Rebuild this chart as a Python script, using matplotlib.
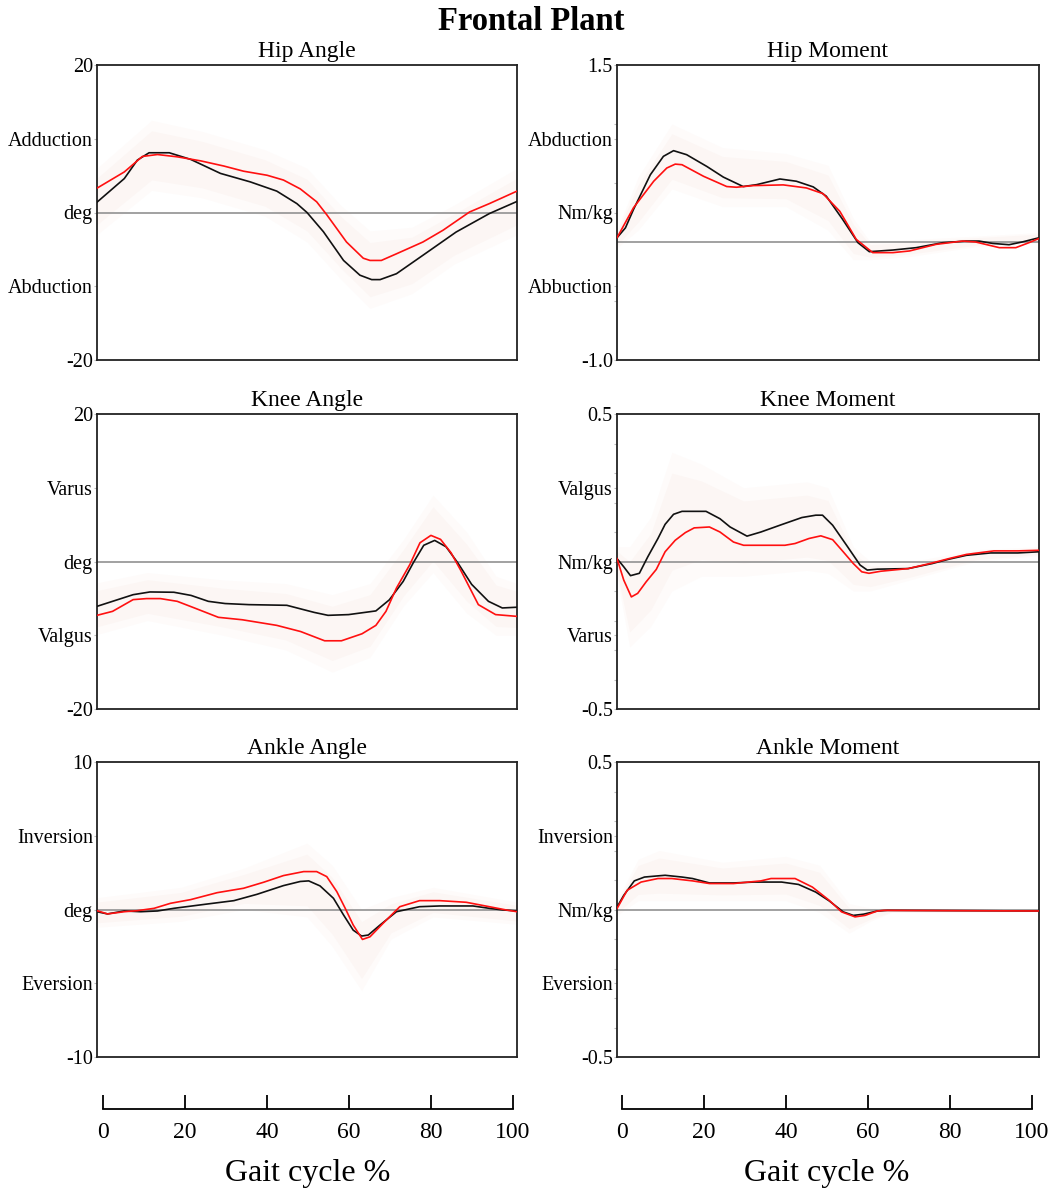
import numpy as np
import matplotlib
matplotlib.use("Agg")
import matplotlib.pyplot as plt

plt.rcParams.update({"font.family": ["Liberation Serif", "DejaVu Serif"]})

# ---- Hip angle (deg) ----
HIP_ANG_BX = [0, 6.5, 9.6, 12.4, 17.2, 22.3, 29.4, 36.5, 42.8, 47.6, 50, 53.9, 58.7,
              62.6, 65.4, 67.4, 71.3, 77.6, 85.5, 93.4, 100]
HIP_ANG_BY = [1.4, 4.6, 7.1, 8.1, 8.1, 7.2, 5.3, 4.15, 2.9, 1.2, 0.0, -2.6, -6.5,
              -8.5, -9.1, -9.1, -8.3, -5.8, -2.65, -0.15, 1.5]
HIP_ANG_RX = [0, 6.5, 10.8, 14.4, 19.1, 24.7, 30.2, 34.9, 40.5, 44.4, 48.4, 52.3, 54.7,
              59.4, 63.4, 65, 67.7, 71.3, 77.6, 82.4, 88.7, 93.4, 100]
HIP_ANG_RY = [3.3, 5.5, 7.6, 7.86, 7.55, 7.0, 6.3, 5.6, 5.05, 4.4, 3.2, 1.45, -0.3,
              -4.0, -6.2, -6.5, -6.5, -5.6, -4.0, -2.4, 0.07, 1.2, 2.9]
HIP_ANG_SX = [0, 13, 25, 40, 50, 58, 65, 75, 85, 100]
HIP_ANG_HI = [6.0, 12.5, 11.0, 8.5, 6.0, 1.0, -2.5, -2.0, 1.0, 6.0]
HIP_ANG_LO = [-3.0, 3.0, 2.0, -0.5, -4.0, -9.0, -13.0, -11.0, -7.0, -3.0]

# ---- Hip moment (Nm/kg) ----
HIP_MOM_BX = [0, 2, 3.9, 7.9, 11, 13.4, 16.5, 21.3, 25.2, 29.9, 33.1, 38.6, 42.5, 46.5,
              49.6, 53.5, 57.1, 59.8, 65.4, 70.9, 77.2, 82.7, 85.8, 89, 92.9, 96, 100]
HIP_MOM_BY = [0.036, 0.12, 0.275, 0.57, 0.726, 0.774, 0.74, 0.64, 0.55, 0.47, 0.486,
              0.534, 0.515, 0.467, 0.388, 0.19, -0.006, -0.082, -0.068, -0.048, -0.006,
              0.008, 0.008, -0.012, -0.023, 0.0, 0.036]
HIP_MOM_RX = [0, 3.9, 8.7, 11.8, 13.8, 15.4, 20.5, 26, 28.3, 32.3, 39.4, 44.9, 48.8,
              52.8, 56.7, 60.6, 65.4, 69.3, 75.6, 81.9, 85, 90.6, 94.5, 97.6, 100]
HIP_MOM_RY = [0.036, 0.29, 0.515, 0.627, 0.66, 0.655, 0.557, 0.47, 0.464, 0.478, 0.484,
              0.458, 0.41, 0.26, 0.022, -0.09, -0.09, -0.076, -0.02, 0.008, 0.0, -0.048,
              -0.048, -0.006, 0.03]
HIP_MOM_SX = [0, 5, 13, 25, 40, 50, 56, 60, 70, 85, 100]
HIP_MOM_HI = [0.1, 0.55, 1.0, 0.8, 0.75, 0.65, 0.2, 0.0, 0.02, 0.05, 0.08]
HIP_MOM_LO = [-0.05, 0.1, 0.45, 0.3, 0.3, 0.1, -0.15, -0.15, -0.12, -0.04, -0.01]

# ---- Knee angle (deg) ----
KNEE_ANG_BX = [0, 3.7, 8.6, 12.6, 18.3, 22.4, 26.5, 30.5, 36.2, 45.2, 51.7, 55, 59.9,
               66.4, 69.6, 72.9, 75.3, 77.8, 80.4, 83.1, 85.9, 89.2, 93.2, 96.5, 100]
KNEE_ANG_BY = [-6.08, -5.4, -4.5, -4.13, -4.17, -4.6, -5.4, -5.7, -5.85, -5.94, -6.9,
               -7.3, -7.2, -6.7, -5.2, -2.7, -0.18, 2.2, 2.86, 2.0, -0.18, -3.1, -5.4,
               -6.3, -6.2]
KNEE_ANG_RX = [0, 3.7, 8.6, 11.8, 15.1, 19.1, 23.2, 28.9, 34.6, 42.8, 48.5, 54.2, 58.2,
               63.1, 66.4, 68.8, 71.3, 74.5, 76.9, 79.5, 81.8, 84.3, 86.7, 90.8, 94.9, 100]
KNEE_ANG_RY = [-7.3, -6.76, -5.17, -5.03, -5.03, -5.4, -6.3, -7.57, -7.9, -8.66, -9.5,
               -10.75, -10.75, -9.8, -8.66, -6.76, -3.6, -0.4, 2.54, 3.54, 3.0, 1.18,
               -1.3, -5.85, -7.2, -7.44]
KNEE_ANG_SX = [0, 12, 30, 45, 56, 65, 73, 80, 88, 95, 100]
KNEE_ANG_HI = [-2.9, -1.5, -2.5, -3.0, -4.5, -3.0, 3.0, 9.0, 4.0, -2.0, -3.0]
KNEE_ANG_LO = [-9.9, -8.0, -10.0, -12.0, -15.0, -13.0, -6.0, -1.5, -7.0, -10.0, -10.0]

# ---- Knee moment (Nm/kg) ----
KNEE_MOM_BX = [0, 1.6, 3.2, 5.3, 7.3, 9.7, 11.4, 13.4, 15.4, 21.1, 24.4, 26.8, 30.8,
               34.1, 39, 43.8, 47.1, 48.7, 51.1, 54.4, 57.6, 59.3, 61.7, 69, 74.7, 78.7,
               82.8, 88.5, 95, 100]
KNEE_MOM_BY = [0.01, -0.018, -0.048, -0.04, 0.016, 0.078, 0.126, 0.16, 0.17, 0.17,
               0.145, 0.117, 0.086, 0.1, 0.125, 0.149, 0.157, 0.157, 0.123, 0.055,
               -0.012, -0.029, -0.026, -0.024, -0.007, 0.008, 0.021, 0.029, 0.029, 0.033]
KNEE_MOM_RX = [0, 1.6, 3.4, 4.9, 6.9, 9.3, 11.4, 13.8, 16.2, 18.3, 21.9, 24.4, 27.6, 30,
               39.8, 42.2, 45.5, 48.3, 51.1, 53.6, 56, 58, 59.7, 62.5, 69, 74.7, 78.7,
               82.8, 89.3, 95, 100]
KNEE_MOM_RY = [0.01, -0.063, -0.12, -0.108, -0.069, -0.027, 0.033, 0.072, 0.098, 0.114,
               0.117, 0.1, 0.066, 0.055, 0.055, 0.061, 0.078, 0.087, 0.074, 0.033,
               -0.007, -0.035, -0.04, -0.033, -0.024, -0.005, 0.01, 0.024, 0.036, 0.036,
               0.038]
KNEE_MOM_SX = [0, 3, 8, 13, 20, 30, 45, 50, 56, 60, 70, 85, 100]
KNEE_MOM_HI = [0.05, 0.05, 0.15, 0.37, 0.33, 0.25, 0.27, 0.25, 0.05, 0.0, 0.0, 0.04, 0.05]
KNEE_MOM_LO = [-0.05, -0.29, -0.22, -0.1, -0.05, -0.05, -0.03, -0.04, -0.1, -0.1, -0.06,
               0.0, 0.02]

# ---- Ankle angle (deg) ----
ANK_ANG_BX = [0, 2.5, 6.5, 10.4, 14.4, 18.3, 26.2, 32.6, 38.1, 44.4, 48.4, 50.4, 53.1,
              56.3, 58.7, 61, 63, 64.6, 67.4, 71.3, 76.8, 81.6, 89.5, 93.4, 96.6, 100]
ANK_ANG_BY = [-0.15, -0.3, -0.1, -0.15, -0.1, 0.08, 0.37, 0.6, 1.03, 1.62, 1.9, 1.94,
              1.6, 0.76, -0.37, -1.4, -1.8, -1.73, -1.05, -0.15, 0.19, 0.24, 0.24, 0.08,
              -0.03, -0.1]
ANK_ANG_RX = [0, 2.5, 6.5, 9.6, 13.6, 17.5, 22.3, 28.6, 34.9, 39.7, 44.4, 49.2, 52.3,
              54.7, 57.1, 59.1, 61, 63.2, 65, 68.1, 72.1, 76.8, 81.6, 87.9, 93.4, 97.4, 100]
ANK_ANG_RY = [-0.08, -0.3, -0.15, -0.08, 0.08, 0.42, 0.67, 1.14, 1.44, 1.85, 2.3, 2.57,
              2.57, 2.23, 1.21, 0.08, -1.05, -2.03, -1.85, -0.94, 0.19, 0.6, 0.6, 0.49,
              0.19, -0.03, -0.15]
ANK_ANG_SX = [0, 20, 35, 50, 56, 63, 70, 80, 100]
ANK_ANG_HI = [0.8, 1.5, 2.8, 4.5, 3.0, 0.0, 0.8, 1.5, 0.5]
ANK_ANG_LO = [-1.2, -0.8, 0.0, -0.5, -2.5, -5.5, -2.0, -0.5, -1.0]

# ---- Ankle moment (Nm/kg) ----
ANK_MOM_BX = [0, 1.6, 4.1, 6.5, 9.7, 11.4, 15.4, 17.9, 21.9, 27.6, 32.5, 39, 43, 47.1,
              50.3, 53.6, 56, 58.4, 61.7, 64.1, 100]
ANK_MOM_BY = [0.008, 0.048, 0.097, 0.11, 0.114, 0.116, 0.11, 0.105, 0.09, 0.09, 0.093,
              0.093, 0.085, 0.059, 0.029, -0.008, -0.02, -0.016, -0.005, -0.003, -0.005]
ANK_MOM_RX = [0, 2.4, 5.7, 9.7, 13, 17.9, 21.9, 27.6, 34.1, 36.5, 42.2, 46.3, 50.3, 53.2,
              56.4, 58.8, 61.7, 63.3, 100]
ANK_MOM_RY = [0.003, 0.065, 0.093, 0.105, 0.105, 0.097, 0.088, 0.088, 0.097, 0.105,
              0.105, 0.076, 0.031, -0.008, -0.025, -0.02, -0.005, -0.003, -0.005]
ANK_MOM_SX = [0, 5, 10, 25, 40, 48, 55, 60, 65, 100]
ANK_MOM_HI = [0.03, 0.17, 0.2, 0.16, 0.18, 0.15, 0.02, 0.005, 0.002, 0.002]
ANK_MOM_LO = [-0.02, 0.03, 0.03, 0.03, 0.03, -0.01, -0.08, -0.04, -0.01, -0.008]

PANELS = [
    dict(title="Hip Angle", ylim=(-20, 20), labels=["20", "Adduction", "deg", "Abduction", "-20"],
         minor=[], black=(HIP_ANG_BX, HIP_ANG_BY), red=(HIP_ANG_RX, HIP_ANG_RY),
         band=(HIP_ANG_SX, HIP_ANG_LO, HIP_ANG_HI)),
    dict(title="Hip Moment", ylim=(-1.0, 1.5), labels=["1.5", "Abduction", "Nm/kg", "Abbuction", "-1.0"],
         minor=[1.0, 0.5, -0.5], black=(HIP_MOM_BX, HIP_MOM_BY), red=(HIP_MOM_RX, HIP_MOM_RY),
         band=(HIP_MOM_SX, HIP_MOM_LO, HIP_MOM_HI)),
    dict(title="Knee Angle", ylim=(-20, 20), labels=["20", "Varus", "deg", "Valgus", "-20"],
         minor=[], black=(KNEE_ANG_BX, KNEE_ANG_BY), red=(KNEE_ANG_RX, KNEE_ANG_RY),
         band=(KNEE_ANG_SX, KNEE_ANG_LO, KNEE_ANG_HI)),
    dict(title="Knee Moment", ylim=(-0.5, 0.5), labels=["0.5", "Valgus", "Nm/kg", "Varus", "-0.5"],
         minor=np.arange(-0.4, 0.45, 0.1), black=(KNEE_MOM_BX, KNEE_MOM_BY),
         red=(KNEE_MOM_RX, KNEE_MOM_RY), band=(KNEE_MOM_SX, KNEE_MOM_LO, KNEE_MOM_HI)),
    dict(title="Ankle Angle", ylim=(-10, 10), labels=["10", "Inversion", "deg", "Eversion", "-10"],
         minor=[], black=(ANK_ANG_BX, ANK_ANG_BY), red=(ANK_ANG_RX, ANK_ANG_RY),
         band=(ANK_ANG_SX, ANK_ANG_LO, ANK_ANG_HI)),
    dict(title="Ankle Moment", ylim=(-0.5, 0.5), labels=["0.5", "Inversion", "Nm/kg", "Eversion", "-0.5"],
         minor=np.arange(-0.4, 0.45, 0.1), black=(ANK_MOM_BX, ANK_MOM_BY),
         red=(ANK_MOM_RX, ANK_MOM_RY), band=(ANK_MOM_SX, ANK_MOM_LO, ANK_MOM_HI)),
]

GAIT_TICKS = [0, 20, 40, 60, 80, 100]

W, H = 1062, 1192
fig = plt.figure(figsize=(W / 100, H / 100), dpi=100)


def px_axes(x0, y0, x1, y1):
    return fig.add_axes([x0 / W, 1 - y1 / H, (x1 - x0) / W, (y1 - y0) / H])


cols = [(97, 517), (617, 1039)]
rows = [(65, 360), (414, 709), (762, 1057)]

for i, p in enumerate(PANELS):
    (x0, x1), (y0, y1) = cols[i % 2], rows[i // 2]
    ax = px_axes(x0, y0, x1, y1)
    lo, hi = p["ylim"]
    sx, slo, shi = p["band"]
    slo, shi = np.asarray(slo), np.asarray(shi)
    mid, half = (slo + shi) / 2, (shi - slo) / 2
    # faint two-tone spread band
    ax.fill_between(sx, slo, shi, color="#fefbfa", lw=0, zorder=1)
    ax.fill_between(sx, mid - 0.7 * half, mid + 0.7 * half, color="#fcf6f4", lw=0, zorder=1)
    ax.axhline(0, color="#9a9a9a", lw=1.3, zorder=2)
    ax.plot(*p["black"], color="#111111", lw=1.2, zorder=3)
    ax.plot(*p["red"], color="#ff1010", lw=1.2, zorder=4)
    ax.set_xlim(0, 100)
    ax.set_ylim(lo, hi)
    ax.set_xticks([])
    ax.set_yticks(np.linspace(hi, lo, 5))
    ax.set_yticklabels(p["labels"], fontsize=14.5)
    ax.set_yticks(p["minor"], minor=True)
    ax.tick_params(axis="y", which="both", length=2.5, width=0.8, color="#bbbbbb", pad=0.5)
    for s in ax.spines.values():
        s.set_linewidth(1.3)
        s.set_color("#222222")
    ax.set_title(p["title"], fontsize=17, pad=5.5)

# shared gait-cycle axes at the bottom
for x0, x1 in [(103, 513), (622, 1032)]:
    bx = px_axes(x0, 1100, x1, 1109)
    bx.set_xlim(0, 100)
    bx.set_yticks([])
    for side in ("top", "left", "right"):
        bx.spines[side].set_visible(False)
    bx.spines["bottom"].set_linewidth(1.3)
    bx.patch.set_alpha(0)
    bx.set_xticks(GAIT_TICKS)
    bx.tick_params(axis="x", direction="in", length=10, width=1.3, labelsize=17, pad=9)
    bx.set_xlabel("Gait cycle %", fontsize=23, labelpad=12)

fig.text(0.5, 1 - 22 / H, "Frontal Plant", ha="center", va="center",
         fontsize=23.5, fontweight="bold")

fig.savefig("out.png", dpi=100)
